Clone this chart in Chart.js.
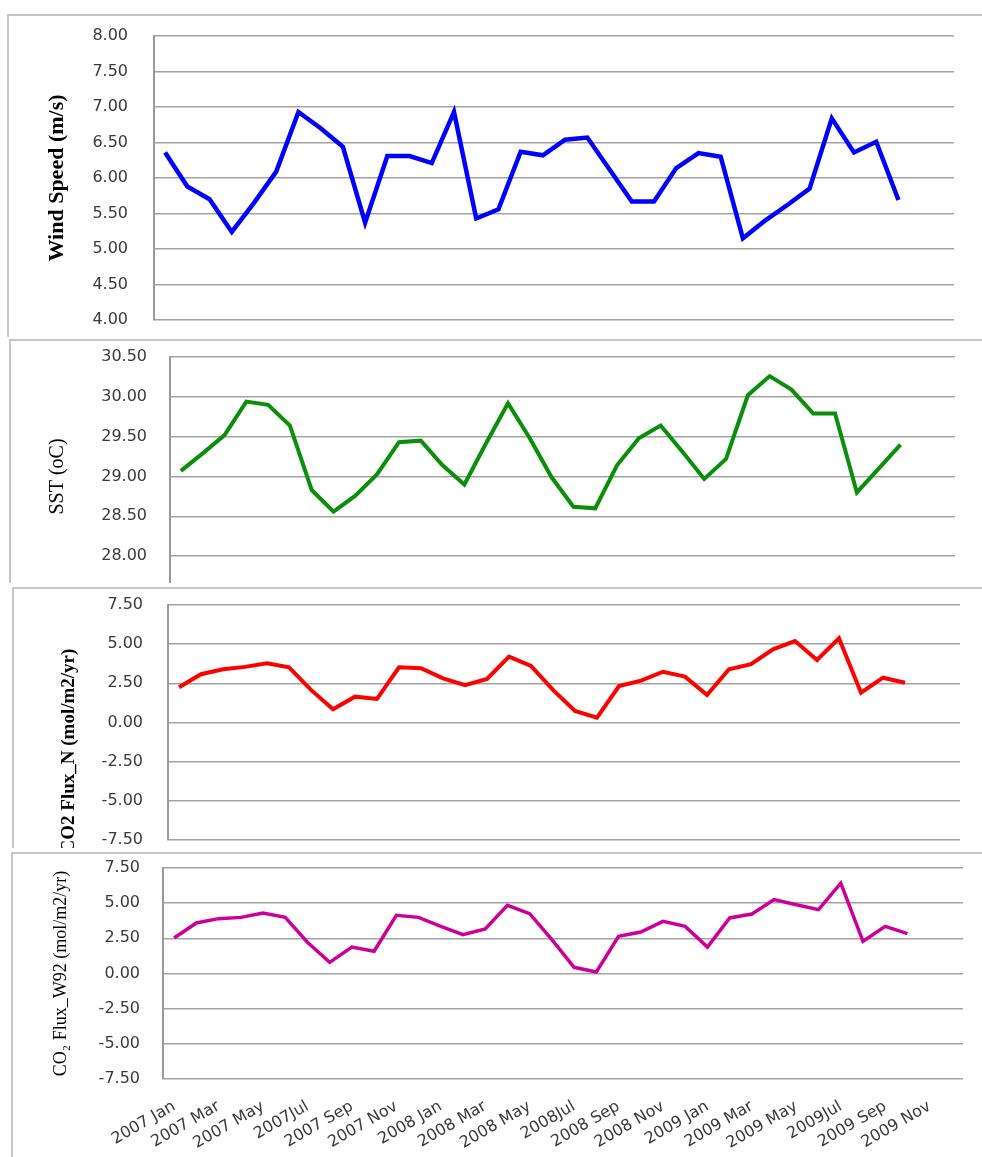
<!DOCTYPE html>
<html>
<head>
<meta charset="utf-8">
<script src="https://cdn.jsdelivr.net/npm/chart.js@4.4.1/dist/chart.umd.min.js"></script>
<style>
  html, body { margin: 0; padding: 0; background: #ffffff; }
  body { width: 982px; height: 1157px; position: relative; overflow: hidden; }
  .frame { position: absolute; overflow: hidden; box-sizing: border-box;
           border-left: 2px solid #c6c6c6; border-top: 2px solid #c6c6c6; background: #ffffff; }
  .frame canvas { position: absolute; left: 0; top: 0; }
</style>
</head>
<body>
<div class="frame" id="f1"><canvas id="c1"></canvas></div>
<div class="frame" id="f2"><canvas id="c2"></canvas></div>
<div class="frame" id="f3"><canvas id="c3"></canvas></div>
<div class="frame" id="f4"><canvas id="c4"></canvas></div>
<script>
// ---------- DATA ----------
const categories = [
  '2007 Jan','2007 Feb','2007 Mar','2007 Apr','2007 May','2007 Jun','2007Jul','2007 Aug','2007 Sep','2007 Oct','2007 Nov','2007 Dec',
  '2008 Jan','2008 Feb','2008 Mar','2008 Apr','2008 May','2008 Jun','2008Jul','2008 Aug','2008 Sep','2008 Oct','2008 Nov','2008 Dec',
  '2009 Jan','2009 Feb','2009 Mar','2009 Apr','2009 May','2009 Jun','2009Jul','2009 Aug','2009 Sep','2009 Oct','2009 Nov','2009 Dec'
];
const xTickLabels = [
  '2007 Jan','2007 Mar','2007 May','2007Jul','2007 Sep','2007 Nov',
  '2008 Jan','2008 Mar','2008 May','2008Jul','2008 Sep','2008 Nov',
  '2009 Jan','2009 Mar','2009 May','2009Jul','2009 Sep','2009 Nov'
];
const windSpeed = [6.36,5.88,5.70,5.24,5.65,6.09,6.93,6.70,6.44,5.37,6.31,6.31,6.21,6.93,5.43,5.56,6.37,6.32,6.54,6.57,6.12,5.67,5.67,6.14,6.35,6.30,5.15,5.40,5.62,5.85,6.84,6.36,6.51,5.69];
const sst = [29.07,29.29,29.52,29.94,29.90,29.64,28.83,28.56,28.76,29.03,29.43,29.45,29.14,28.90,29.42,29.92,29.48,28.99,28.62,28.60,29.14,29.48,29.64,29.31,28.97,29.22,30.02,30.26,30.09,29.79,29.79,28.80,29.10,29.40];
const co2FluxN = [2.25,3.08,3.40,3.55,3.78,3.52,2.08,0.84,1.65,1.50,3.52,3.46,2.82,2.39,2.78,4.20,3.61,2.08,0.74,0.31,2.33,2.67,3.24,2.93,1.76,3.40,3.72,4.67,5.20,3.99,5.37,1.90,2.86,2.54];
const co2FluxW92 = [2.52,3.59,3.90,3.99,4.30,3.99,2.22,0.79,1.88,1.58,4.14,3.99,3.35,2.76,3.16,4.85,4.25,2.41,0.44,0.11,2.64,2.95,3.71,3.35,1.88,3.95,4.23,5.25,4.89,4.54,6.43,2.29,3.35,2.83];

const windTicks = { min: 4, max: 8, step: 0.5 };
const sstTicks = { min: 27.5, max: 30.5, step: 0.5 };
const fluxTicks = { min: -7.5, max: 7.5, step: 2.5 };

// ---------- LAYOUT ----------
const serif = '"Liberation Serif", "Times New Roman", serif';
const panels = [
  { id: 1, frame: { l: 7,  t: 14,  w: 975, h: 323 }, area: { l: 154, t: 36,  r: 954, b: 320 }, canvasH: 321,
    data: windSpeed, color: '#0000ff', width: 4.5, ticks: windTicks, tickPad: 26,
    title: 'Wind Speed (m/s)', titleFont: { family: serif, size: 22, weight: 'bold' }, titleCenter: 48, showX: false },
  { id: 2, frame: { l: 9,  t: 339, w: 973, h: 244 }, area: { l: 170, t: 357, r: 955, b: 596 }, canvasH: 269,
    data: sst, color: '#0a8f0a', width: 4, ticks: sstTicks, tickPad: 23,
    title: 'SST (oC)', titleFont: { family: serif, size: 20, weight: 'normal' }, titleCenter: 47, showX: false },
  { id: 3, frame: { l: 12, t: 587, w: 970, h: 261 }, area: { l: 168, t: 605, r: 960, b: 840 }, canvasH: 265,
    data: co2FluxN, color: '#ff0000', width: 4, ticks: fluxTicks, tickPad: 25,
    title: 'CO2 Flux_N (mol/m2/yr)\u2003\u2003\u2003', titleFont: { family: serif, size: 19, weight: 'bold' }, titleCenter: 55, showX: false },
  { id: 4, frame: { l: 11, t: 852, w: 971, h: 305 }, area: { l: 163, t: 868, r: 963, b: 1079 }, canvasH: 303,
    data: co2FluxW92, color: '#cc0099', width: 3.5, ticks: fluxTicks, tickPad: 23,
    title: 'CO\u2082 Flux_W92 (mol/m2/yr)', titleFont: { family: serif, size: 18, weight: 'normal' }, titleCenter: 48, showX: true }
];

const tickFont = { family: '"DejaVu Sans", Verdana, sans-serif', size: 16 };
const xTickFont = { family: '"DejaVu Sans", Verdana, sans-serif', size: 16 };
const tickColor = '#3a3a3a';
const gridColor = '#a3a3a3';

panels.forEach(p => {
  const f = document.getElementById('f' + p.id);
  f.style.left = p.frame.l + 'px';
  f.style.top = p.frame.t + 'px';
  f.style.width = p.frame.w + 'px';
  f.style.height = p.frame.h + 'px';
  const ox = p.frame.l + 2, oy = p.frame.t + 2;
  const cw = p.frame.w - 2, ch = p.canvasH;
  const cv = document.getElementById('c' + p.id);
  cv.width = cw; cv.height = ch;
  cv.style.width = cw + 'px'; cv.style.height = ch + 'px';

  const yWidth = p.area.l - ox;
  const padTop = p.area.t - oy;
  const padRight = cw - (p.area.r - ox);
  const areaBottomRel = p.area.b - oy;
  const xHeight = p.showX ? ch - areaBottomRel : 0;
  const padBottom = p.showX ? 0 : ch - areaBottomRel;
  const lh = p.titleFont.size * 1.2;

  new Chart(cv, {
    type: 'line',
    data: {
      labels: categories,
      datasets: [{
        data: p.data,
        borderColor: p.color,
        backgroundColor: p.color,
        borderWidth: p.width,
        pointRadius: 0,
        pointHoverRadius: 0,
        tension: 0,
        fill: false,
        borderJoinStyle: 'miter',
        borderCapStyle: 'butt'
      }]
    },
    options: {
      responsive: false,
      animation: false,
      devicePixelRatio: 1,
      layout: { autoPadding: false, padding: { left: 0, top: padTop, right: padRight, bottom: padBottom } },
      plugins: { legend: { display: false }, tooltip: { enabled: false } },
      scales: {
        x: {
          type: 'category',
          offset: true,
          display: p.showX,
          grid: { display: false },
          border: { display: false },
          ticks: {
            autoSkip: false,
            minRotation: 30,
            maxRotation: 30,
            padding: 10,
            font: xTickFont,
            color: tickColor,
            callback: (v, i) => (i % 2 === 0 && xTickLabels[i / 2] !== undefined) ? xTickLabels[i / 2] : ''
          },
          afterFit: s => { if (p.showX) s.height = xHeight; }
        },
        y: {
          min: p.ticks.min,
          max: p.ticks.max,
          grid: { color: gridColor, lineWidth: 1.6, drawTicks: true, tickLength: p.tickPad, tickColor: 'rgba(0,0,0,0)' },
          border: { display: true, color: '#9a9a9a', width: 2 },
          ticks: {
            stepSize: p.ticks.step,
            padding: 0,
            font: tickFont,
            color: tickColor,
            callback: v => Number(v).toFixed(2)
          },
          title: {
            display: true,
            text: p.title,
            color: '#000000',
            font: p.titleFont,
            padding: { top: p.titleCenter - lh / 2, bottom: 0 }
          },
          afterFit: s => { s.width = yWidth; }
        }
      }
    }
  });
});
</script>
</body>
</html>
